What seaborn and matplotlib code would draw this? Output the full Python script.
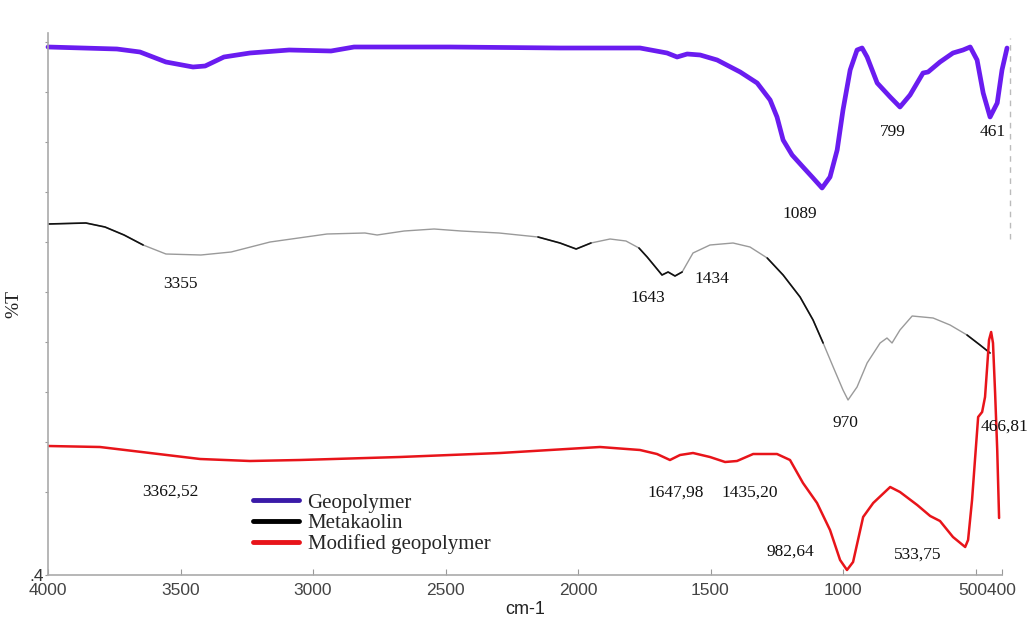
import numpy as np
import pandas as pd
import matplotlib
matplotlib.use("Agg")
import matplotlib.pyplot as plt
from matplotlib.lines import Line2D
import seaborn as sns

# ---------------- data (wavenumber cm-1, %T in arbitrary offset units) ----------------
geo_wn = [4000, 3740, 3653, 3555, 3453, 3407, 3336, 3238, 3090, 2932, 2845, 2483, 2068,
          1766, 1664, 1626, 1588, 1539, 1475, 1388, 1324, 1275, 1249, 1226, 1192, 1151,
          1113, 1079, 1049, 1022, 1000, 973, 947, 928, 909, 871, 822, 785, 747, 698,
          679, 634, 585, 547, 520, 494, 471, 445, 418, 400, 381]
geo_t = [528, 526, 523, 513, 508, 509, 518, 522, 525, 524, 528, 528, 527,
         527, 522, 518, 521, 520, 515, 503, 492, 475, 458, 435, 420, 408,
         397, 387, 398, 425, 465, 505, 525, 527, 518, 492, 478, 468, 480, 502,
         503, 513, 522, 525, 528, 515, 482, 458, 472, 505, 527]

meta_wn = [4000, 3857, 3785, 3713, 3641, 3555, 3423, 3309, 3162, 2947, 2804, 2758, 2656,
           2543, 2441, 2298, 2151, 2068, 2007, 1951, 1879, 1819, 1770, 1739, 1683, 1660,
           1634, 1607, 1566, 1502, 1415, 1351, 1286, 1226, 1162, 1113, 1075, 1037, 1000,
           981, 947, 909, 860, 834, 815, 785, 739, 660, 596, 532, 483, 445]
meta_t = [351, 352, 348, 340, 330, 321, 320, 323, 333, 341, 342, 340, 344,
          346, 344, 342, 338, 332, 326, 332, 336, 334, 327, 318, 300, 303,
          299, 303, 322, 330, 332, 328, 317, 300, 278, 255, 232, 208, 185,
          175, 188, 212, 232, 237, 232, 245, 259, 257, 250, 240, 230, 222]

mod_wn = [4000, 3804, 3615, 3426, 3238, 3049, 2672, 2294, 1917, 1766, 1702, 1653, 1615,
          1566, 1502, 1445, 1400, 1339, 1249, 1200, 1151, 1098, 1049, 1011, 985, 962,
          924, 886, 822, 785, 720, 671, 634, 585, 539, 528, 513, 502, 490, 475, 464,
          456, 449, 441, 434, 426, 418, 411]
mod_t = [129, 128, 122, 116, 114, 115, 118, 122, 128, 125, 121, 115, 120,
         122, 118, 113, 114, 121, 121, 115, 92, 72, 45, 15, 5, 13,
         58, 72, 88, 83, 70, 59, 54, 38, 28, 35, 75, 115, 158, 163, 178,
         208, 235, 243, 232, 182, 125, 57]

# wavenumber ranges where the metakaolin trace is drawn darker
meta_dark_ranges = [(3640, 4000), (1950, 2155), (1600, 1775), (1075, 1290), (440, 535)]

# peak annotations: (text, wavenumber position, %T position)
ann_text = ["1089", "799", "461", "3355", "1643", "1434", "970", "466,81",
            "3362,52", "1647,98", "1435,20", "982,64", "533,75"]
ann_x = [1162, 811, 434, 3502, 1736, 1494, 992, 392, 3540, 1630, 1351, 1200, 717]
ann_y = [361, 443, 443, 291, 277, 296, 152, 148, 83, 82, 82, 23, 20]

series_names = ["Geopolymer", "Metakaolin", "Modified geopolymer"]
x_ticks = [4000, 3500, 3000, 2500, 2000, 1500, 1000, 500, 400]
x_ticklabels = ["4000", "3500", "3000", "2500", "2000", "1500", "1000", "", ""]
end_ticklabel = "500400"

# ---------------- plotting ----------------
sns.set_style("ticks")
plt.rcParams["font.family"] = ["Liberation Sans", "DejaVu Sans"]
plt.rcParams["lines.solid_joinstyle"] = "round"
plt.rcParams["lines.solid_capstyle"] = "round"

fig = plt.figure(figsize=(10.32, 6.24), dpi=100)
ax = fig.add_axes([48 / 1032, 49 / 624, 954 / 1032, 542 / 624])

df_geo = pd.DataFrame({"wn": geo_wn, "T": geo_t})
df_meta = pd.DataFrame({"wn": meta_wn, "T": meta_t})
df_mod = pd.DataFrame({"wn": mod_wn, "T": mod_t})

sns.lineplot(data=df_geo, x="wn", y="T", ax=ax, color="#6a1cf0", linewidth=3.4,
             sort=False, estimator=None, clip_on=False)
sns.lineplot(data=df_meta, x="wn", y="T", ax=ax, color="#9a9a9a", linewidth=1.0,
             sort=False, estimator=None)
meta_arr = np.array(meta_wn)
meta_tarr = np.array(meta_t, dtype=float)
for lo, hi in meta_dark_ranges:
    m = (meta_arr >= lo) & (meta_arr <= hi)
    ax.plot(meta_arr[m], meta_tarr[m], color="#111111", linewidth=1.2)
sns.lineplot(data=df_mod, x="wn", y="T", ax=ax, color="#e8141a", linewidth=1.8,
             sort=False, estimator=None)

for t, xx, yy in zip(ann_text, ann_x, ann_y):
    ax.text(xx, yy, t, ha="center", va="center", fontsize=12.5,
            family="Liberation Serif", color="#111111")

ax.set_xlim(4000, 400)
ax.set_ylim(0, 542)
ax.set_xticks(x_ticks)
ax.set_xticklabels(x_ticklabels)
ax.annotate(end_ticklabel, xy=(456, 0), xycoords=ax.get_xaxis_transform(),
            xytext=(0, -6), textcoords="offset points", ha="center", va="top",
            fontsize=12.5, color="#444444")
ax.set_yticks([0] + [33 + 50 * k for k in range(1, 11)])
ax.set_yticklabels([".4"] + [""] * 10)
ax.tick_params(axis="x", direction="in", length=4, labelsize=12.5, colors="#999999",
               labelcolor="#444444", pad=6)
ax.tick_params(axis="y", direction="out", length=2, labelsize=12.5, colors="#999999",
               labelcolor="#333333", pad=1)
for s in ["top", "right"]:
    ax.spines[s].set_visible(False)
for s in ["left", "bottom"]:
    ax.spines[s].set_color("#aaaaaa")
    ax.spines[s].set_linewidth(1.2)

ax.set_xlabel("cm-1", fontsize=13, color="#222222", labelpad=2)
ax.set_ylabel("%T", fontsize=14, family="Liberation Serif", color="#222222")
ax.yaxis.set_label_coords(-0.027, 0.5)

# faint dashed guide on the right edge
ax.add_line(Line2D([1.008, 1.008], [0.62, 0.99], transform=ax.transAxes,
                   color="#bbbbbb", linestyle=(0, (4, 4)), linewidth=1.0, clip_on=False))

handles = [Line2D([0], [0], color="#3a1aa8", linewidth=3.5),
           Line2D([0], [0], color="black", linewidth=3.5),
           Line2D([0], [0], color="#e8141a", linewidth=3.5)]
ax.legend(handles, series_names, loc="upper left", bbox_to_anchor=(0.2, 0.178),
          frameon=False, prop={"family": "Liberation Serif", "size": 15},
          handlelength=2.2, handletextpad=0.4, labelspacing=0.05, borderpad=0.2)

fig.savefig("out.png", dpi=100)
